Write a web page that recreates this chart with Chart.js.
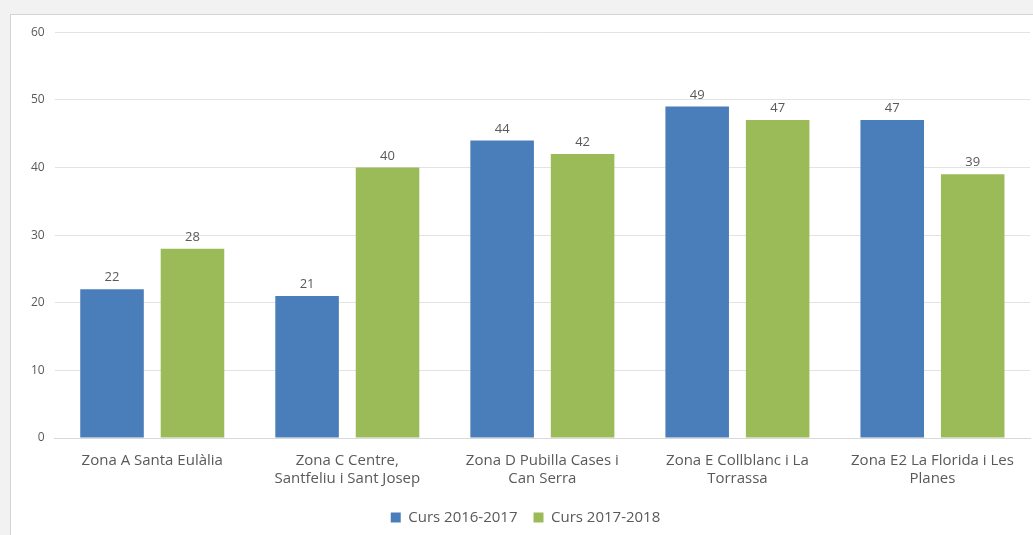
<!DOCTYPE html>
<html>
<head>
<meta charset="utf-8">
<script src="https://cdn.jsdelivr.net/npm/chart.js@4/dist/chart.umd.min.js"></script>
<style>
  html, body { margin: 0; padding: 0; background: #f2f2f2; }
  #box {
    position: absolute; left: 10px; top: 14px; width: 1023px; height: 521px;
    background: #fff; border-left: 1px solid #d4d4d4; border-top: 1px solid #d4d4d4;
  }
</style>
</head>
<body>
<div id="box"><canvas id="canvas"></canvas></div>
<script>
var zones = [
    ['Zona A Santa Eulàlia'],
    ['Zona C Centre,', 'Santfeliu i Sant Josep'],
    ['Zona D Pubilla Cases i', 'Can Serra'],
    ['Zona E Collblanc i La', 'Torrassa'],
    ['Zona E2 La Florida i Les', 'Planes']
];
var curs1617 = [22, 21, 44, 49, 47];
var curs1718 = [28, 40, 42, 47, 39];
var seriesNames = ['Curs 2016-2017', 'Curs 2017-2018'];

var textGray = '#595959';

// valors a sobre de cada barra
var barLabels = {
    id: 'barLabels',
    afterDatasetsDraw: function(chart) {
        var c = chart.ctx;
        c.save();
        c.font = '13px "Open Sans", sans-serif';
        c.fillStyle = textGray;
        c.textAlign = 'center';
        c.textBaseline = 'bottom';
        chart.data.datasets.forEach(function(ds, i) {
            chart.getDatasetMeta(i).data.forEach(function(bar, j) {
                c.fillText(ds.data[j], bar.x, bar.y - 5);
            });
        });
        c.restore();
    }
};

window.onload = function() {
    var ctx = document.getElementById('canvas').getContext('2d');
    new Chart(ctx, {
        type: 'bar',
        data: {
            labels: zones,
            datasets: [
                { label: seriesNames[0], data: curs1617, backgroundColor: '#4a7ebb' },
                { label: seriesNames[1], data: curs1718, backgroundColor: '#9bbb59' }
            ]
        },
        options: {
            responsive: true,
            maintainAspectRatio: false,
            animation: false,
            layout: { padding: { top: 15, right: 4, left: 10, bottom: 1 } },
            categoryPercentage: 0.825,
            barPercentage: 0.79,
            scales: {
                x: {
                    grid: { display: false },
                    border: { color: '#d9d9d9' },
                    ticks: { color: textGray, font: { size: 15, family: '"Open Sans", sans-serif' }, padding: 6, maxRotation: 0, autoSkip: false }
                },
                y: {
                    min: 0, max: 60,
                    ticks: { stepSize: 10, color: textGray, font: { size: 12, family: '"Open Sans", sans-serif' }, padding: 10 },
                    grid: { color: '#e3e3e3', drawTicks: false },
                    border: { display: false }
                }
            },
            plugins: {
                legend: {
                    position: 'bottom',
                    labels: { color: textGray, boxWidth: 10, boxHeight: 10, font: { size: 15, family: '"Open Sans", sans-serif' }, padding: 16 }
                },
                tooltip: { enabled: false }
            }
        },
        plugins: [barLabels]
    });
};
</script>
</body>
</html>
